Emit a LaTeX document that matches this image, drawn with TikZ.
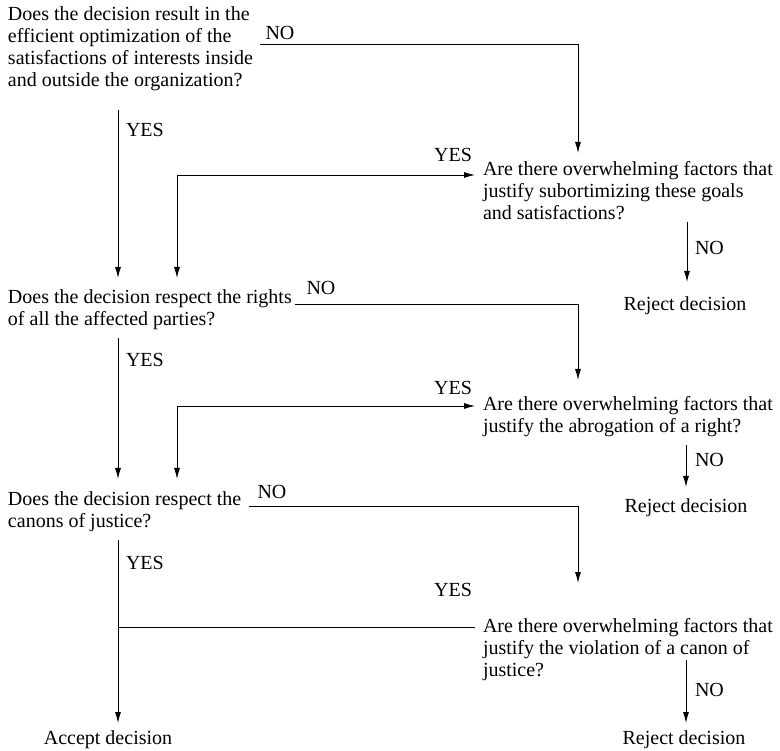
\documentclass[tikz,border=0pt]{standalone}
\usepackage{fontspec}
\setmainfont{Liberation Serif}
\usetikzlibrary{arrows.meta}
\begin{document}
\begin{tikzpicture}[x=1pt,y=-1pt,
  question/.style={inner sep=0pt, outer sep=0pt, font=\fontsize{20}{22}\selectfont, align=left, anchor=north west},
  lbl/.style={inner sep=0pt, outer sep=0pt, font=\fontsize{20}{22}\selectfont},
  outcome/.style={lbl, anchor=base},
  flow/.style={line width=0.9pt},
  arr/.style={flow, -{Latex[length=11pt,width=6pt]}},
  arrboth/.style={flow, {Latex[length=11pt,width=6pt]}-{Latex[length=11pt,width=6pt]}}]
\useasboundingbox (0,0) rectangle (780,751);

% questions on the left (main line of tests)
\node[question] (q1) at (8,5.5) {\strut Does the decision result in the\\efficient optimization of the\\satisfactions of interests inside\\and outside the organization?\strut};
\node[question] (q3) at (8,288.5) {\strut Does the decision respect the rights\\of all the affected parties?\strut};
\node[question] (q5) at (8,490.5) {\strut Does the decision respect the\\canons of justice?\strut};

% questions on the right (overriding factors)
\node[question] (q2) at (483,160.5) {\strut Are there overwhelming factors that\\justify subortimizing these goals\\and satisfactions?\strut};
\node[question] (q4) at (483,395.5) {\strut Are there overwhelming factors that\\justify the abrogation of a right?\strut};
\node[question] (q6) at (483,617.5) {\strut Are there overwhelming factors that\\justify the violation of a canon of\\justice?\strut};

% outcomes
\node[outcome] (rej1) at (685,311) {Reject decision};
\node[outcome] (rej2) at (686,513) {Reject decision};
\node[outcome] (rej3) at (684,744) {Reject decision};
\node[outcome] (acc) at (108,744) {Accept decision};

% branch labels
\node[lbl] (no1) at (280,33) {NO};
\node[lbl, anchor=west] (yes1) at (126,130) {YES};
\node[lbl, anchor=east] (yes2) at (472,155) {YES};
\node[lbl, anchor=west] (no2) at (695,248) {NO};
\node[lbl] (no3) at (321,288) {NO};
\node[lbl, anchor=west] (yes3) at (126,360) {YES};
\node[lbl, anchor=east] (yes4) at (472,388) {YES};
\node[lbl, anchor=west] (no4) at (695,460) {NO};
\node[lbl] (no5) at (272,492) {NO};
\node[lbl, anchor=west] (yes5) at (126,563) {YES};
\node[lbl, anchor=east] (yes6) at (472,590) {YES};
\node[lbl, anchor=west] (no6) at (695,690) {NO};

% connector end points
\coordinate (n1a) at (260,44);  \coordinate (n1b) at (578,153);
\coordinate (y1a) at (118,110); \coordinate (y1b) at (118,278);
\coordinate (y2a) at (475,175); \coordinate (y2b) at (177,278);
\coordinate (n2a) at (687,222); \coordinate (n2b) at (687,282);
\coordinate (n3a) at (295,304); \coordinate (n3b) at (578,380);
\coordinate (y3a) at (118,338); \coordinate (y3b) at (118,479);
\coordinate (y4a) at (475,406); \coordinate (y4b) at (177,479);
\coordinate (n4a) at (686,445); \coordinate (n4b) at (686,487);
\coordinate (n5a) at (249,506); \coordinate (n5b) at (578,583);
\coordinate (y5a) at (118,540); \coordinate (y5b) at (118,723);
\coordinate (y6a) at (475,627); \coordinate (y6b) at (118,627);
\coordinate (n6a) at (686,660); \coordinate (n6b) at (686,723);

% connectors
\draw[arr] (n1a) -| (n1b);
\draw[arr] (y1a) -- (y1b);
\draw[arrboth] (y2a) -| (y2b);
\draw[arr] (n2a) -- (n2b);
\draw[arr] (n3a) -| (n3b);
\draw[arr] (y3a) -- (y3b);
\draw[arrboth] (y4a) -| (y4b);
\draw[arr] (n4a) -- (n4b);
\draw[arr] (n5a) -| (n5b);
\draw[arr] (y5a) -- (y5b);
\draw[flow] (y6a) -- (y6b);
\draw[arr] (n6a) -- (n6b);
\end{tikzpicture}
\end{document}
